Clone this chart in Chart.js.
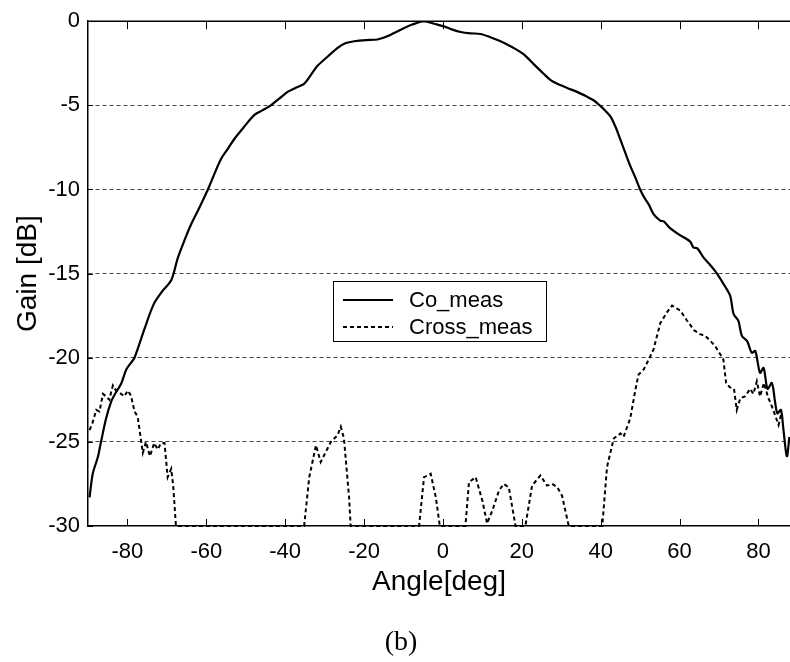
<!DOCTYPE html>
<html lang="en">
<head>
  <meta charset="UTF-8" />
  <title>Gain pattern (b)</title>
  <script src="https://cdn.jsdelivr.net/npm/chart.js"></script>
  <style>
    body {
      margin: 0;
      background: #fff;
    }
    #wrap {
      width: 790px;
      height: 662px;
    }
  </style>
</head>
<body>
  <div id="wrap"><canvas id="chart" width="790" height="662"></canvas></div>

  <script>
    // x / y ticks
    const xTicks = [-80, -60, -40, -20, 0, 20, 40, 60, 80];
    const yTicks = [0, -5, -10, -15, -20, -25, -30];

    // Co_meas (solid)
    const coAngle = [
      -89.6, -88.8, -87.5, -86.7, -85.4, -84.1, -82.9, -81.6, -80.3, -79.1,
      -78.2, -75.7, -73.3, -71.0, -68.9, -67.2, -65.5, -63.9, -61.8, -59.6,
      -58.0, -56.3, -54.6, -52.9, -50.5, -47.8, -45.8, -43.8, -41.5, -39.4,
      -37.3, -35.2, -33.5, -31.8, -29.2, -26.7, -24.6, -22.5, -19.5, -16.6,
      -14.1, -10.7, -7.8, -4.8, -2.3, 0.25, 2.4, 4.5, 7.0, 9.5,
      12.0, 14.6, 17.6, 20.5, 23.0, 25.6, 27.3, 29.0, 31.5, 34.0,
      36.2, 38.2, 39.9, 41.3, 42.5, 43.8, 45.0, 46.2, 47.5, 48.8,
      50.0, 51.1, 52.2, 53.5, 55.1, 56.0, 57.6, 60.0, 62.7, 63.5,
      64.5, 66.1, 67.8, 69.5, 71.1, 72.8, 73.7, 74.9, 75.8, 77.1,
      78.3, 79.2, 80.4, 81.3, 82.3, 83.4, 84.2, 84.8, 85.7, 86.3,
      87.2, 87.85
    ];
    const coGain = [
      -28.3, -26.9, -25.9, -25.0, -23.6, -22.6, -22.05, -21.55, -20.7, -20.3,
      -20.0, -18.3, -16.8, -16.0, -15.4, -14.05, -13.0, -12.1, -11.1, -10.0,
      -9.1, -8.2, -7.6, -7.0, -6.3, -5.57, -5.3, -5.03, -4.6, -4.2,
      -3.95, -3.72, -3.2, -2.65, -2.1, -1.58, -1.3, -1.19, -1.12, -1.09,
      -0.9, -0.51, -0.2, 0, -0.15, -0.31, -0.5, -0.64, -0.72, -0.76,
      -0.95, -1.19, -1.55, -1.97, -2.55, -3.14, -3.5, -3.72, -3.97, -4.2,
      -4.45, -4.7, -5.03, -5.35, -5.67, -6.3, -7.04, -7.8, -8.6, -9.3,
      -10.0, -10.5, -10.9, -11.5, -11.85, -11.9, -12.3, -12.7, -13.1, -13.45,
      -13.5, -14.05, -14.5, -15.0, -15.6, -16.3, -17.4, -17.8, -18.7, -19.0,
      -19.7, -19.6, -20.9, -20.6, -21.85, -21.5, -22.6, -23.3, -23.1, -24.2,
      -25.85, -24.7
    ];

    // Cross_meas (dashed)
    const crossAngle = [
      -89.6, -88.9, -87.9, -87.1, -86.2, -85.4, -84.6, -83.7, -82.9, -81.6,
      -80.8, -79.9, -79.1, -78.2, -77.4, -76.5, -76.1, -75.3, -74.3, -73.2,
      -72.3, -71.5, -70.6, -69.8, -68.9, -68.4, -67.7, -35.2, -33.9, -32.2,
      -31.0, -28.4, -26.7, -25.9, -25.1, -23.8, -23.4, -6.05, -4.8, -3.1,
      -1.8, -0.8, 5.7, 6.6, 8.3, 10.0, 11.2, 12.5, 14.2, 15.4,
      16.7, 18.4, 20.9, 22.6, 24.7, 26.4, 27.7, 29.0, 30.2, 31.9,
      40.4, 41.6, 43.3, 45.0, 45.8, 47.5, 48.8, 49.6, 50.9, 52.2,
      53.4, 55.1, 56.8, 58.1, 60.2, 61.9, 62.7, 63.6, 65.2, 66.5,
      67.8, 69.0, 71.1, 71.8, 72.7, 73.8, 74.5, 75.4, 76.6, 77.9,
      78.7, 79.6, 80.4, 81.4, 82.5, 83.1, 84.2, 85.1, 85.7
    ];
    const crossGain = [
      -24.3, -23.9, -23.1, -23.2, -22.15, -22.3, -22.5, -21.65, -21.95, -22.15,
      -22.3, -21.95, -22.25, -23.2, -23.5, -25.0, -25.65, -25.0, -25.85, -25.07,
      -25.45, -25.07, -25.07, -27.1, -26.6, -27.6, -30, -30, -27.1, -25.2,
      -26.2, -25.0, -24.6, -24.1, -24.8, -28.3, -30, -30, -27.1, -26.9,
      -28.3, -30, -30, -27.4, -27.1, -28.5, -29.85, -29.1, -27.9, -27.5,
      -27.7, -30, -30, -27.6, -27.0, -27.6, -27.5, -27.7, -28.2, -30,
      -30, -26.5, -24.8, -24.5, -24.7, -23.6, -21.9, -21.0, -20.7, -20.1,
      -19.5, -17.95, -17.3, -16.9, -17.2, -17.8, -18.05, -18.35, -18.6, -18.7,
      -19.0, -19.3, -20.1, -21.5, -21.75, -21.85, -23.1, -22.4, -22.3, -21.85,
      -22.15, -21.4, -22.3, -21.5, -22.4, -22.7, -23.4, -24.0, -23.4
    ];

    const seriesNames = ['Co_meas', 'Cross_meas'];

    const FONT = 'Arial, "Liberation Sans", sans-serif';

    // inward tick marks + top frame line
    const frameTicks = {
      id: 'frameTicks',
      afterDraw(chart) {
        const { ctx, chartArea: a, scales } = chart;
        ctx.save();
        ctx.strokeStyle = '#000';
        ctx.lineWidth = 1.5;
        ctx.beginPath();
        ctx.moveTo(a.left, a.top);
        ctx.lineTo(a.right, a.top);
        ctx.stroke();
        ctx.lineWidth = 1;
        ctx.beginPath();
        for (const v of xTicks) {
          const px = Math.round(scales.x.getPixelForValue(v)) + 0.5;
          ctx.moveTo(px, a.bottom);
          ctx.lineTo(px, a.bottom - 7);
          ctx.moveTo(px, a.top);
          ctx.lineTo(px, a.top + 8);
        }
        for (const v of yTicks) {
          const py = Math.round(scales.y.getPixelForValue(v)) + 0.5;
          ctx.moveTo(a.left, py);
          ctx.lineTo(a.left + 5, py);
        }
        ctx.stroke();
        ctx.restore();
      }
    };

    // boxed legend inside the plot, and the (b) caption
    const boxLegend = {
      id: 'boxLegend',
      afterDraw(chart) {
        const { ctx } = chart;
        ctx.save();
        ctx.fillStyle = '#fff';
        ctx.fillRect(333.5, 281.5, 213, 60);
        ctx.strokeStyle = '#000';
        ctx.lineWidth = 1;
        ctx.strokeRect(333.5, 281.5, 213, 60);

        chart.data.datasets.forEach((ds, i) => {
          const y = 300 + i * 27;
          ctx.strokeStyle = ds.borderColor;
          ctx.lineWidth = ds.borderWidth;
          ctx.setLineDash(ds.borderDash || []);
          ctx.beginPath();
          ctx.moveTo(343, y);
          ctx.lineTo(393, y);
          ctx.stroke();
          ctx.setLineDash([]);
          ctx.fillStyle = '#000';
          ctx.font = '22px ' + FONT;
          ctx.textBaseline = 'middle';
          ctx.textAlign = 'left';
          ctx.fillText(ds.label, 409, y + 1);
        });

        ctx.font = '28px "Liberation Serif", "Times New Roman", serif';
        ctx.textAlign = 'center';
        ctx.textBaseline = 'middle';
        ctx.fillText('(b)', 401, 643);
        ctx.restore();
      }
    };

    new Chart(document.getElementById('chart'), {
      type: 'line',
      data: {
        datasets: [
          {
            label: seriesNames[0],
            data: coAngle.map((a, i) => ({ x: a, y: coGain[i] })),
            borderColor: '#000',
            borderWidth: 2.2,
            pointRadius: 0,
            tension: 0.3,
            fill: false
          },
          {
            label: seriesNames[1],
            data: crossAngle.map((a, i) => ({ x: a, y: crossGain[i] })),
            borderColor: '#000',
            borderWidth: 2,
            borderDash: [4, 3],
            pointRadius: 0,
            tension: 0,
            fill: false,
            clip: 3
          }
        ]
      },
      options: {
        responsive: false,
        animation: false,
        layout: {
          padding: { top: 13, right: 0, left: 0, bottom: 56 }
        },
        plugins: {
          legend: { display: false },
          tooltip: { enabled: false }
        },
        scales: {
          x: {
            type: 'linear',
            min: -90,
            max: 88,
            afterBuildTicks: (scale) => {
              scale.ticks = xTicks.map(v => ({ value: v }));
            },
            afterFit: (scale) => { scale.height = 80; },
            grid: { display: false },
            border: { display: true, color: '#000', width: 1.5 },
            ticks: {
              color: '#000',
              font: { family: FONT, size: 22 },
              padding: 5,
              maxRotation: 0
            },
            title: {
              display: true,
              text: 'Angle[deg]',
              color: '#000',
              font: { family: FONT, size: 28 },
              padding: { top: 0, bottom: 7 }
            }
          },
          y: {
            min: -30,
            max: 0,
            afterBuildTicks: (scale) => {
              scale.ticks = yTicks.map(v => ({ value: v }));
            },
            afterFit: (scale) => { scale.width = 88; },
            grid: {
              drawTicks: false,
              lineWidth: 1,
              color: (ctx) => (ctx.tick && (ctx.tick.value === 0 || ctx.tick.value === -30)) ? 'rgba(0,0,0,0)' : '#444'
            },
            border: { display: true, color: '#000', width: 1.5, dash: [4, 3] },
            ticks: {
              color: '#000',
              font: { family: FONT, size: 22 },
              padding: 8
            },
            title: {
              display: true,
              text: 'Gain [dB]',
              color: '#000',
              font: { family: FONT, size: 28 },
              padding: { top: 11, bottom: 0 }
            }
          }
        }
      },
      plugins: [frameTicks, boxLegend]
    });
  </script>
</body>
</html>
